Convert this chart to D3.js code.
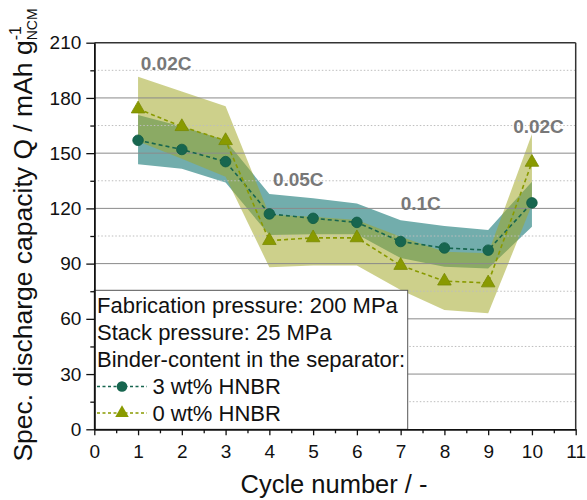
<!DOCTYPE html>
<html>
<head>
<meta charset="utf-8">
<script src="https://cdn.jsdelivr.net/npm/d3@7"></script>
<style>
  html, body { margin: 0; padding: 0; background: #fff; }
  svg { display: block; font-family: "Liberation Sans", Arial, sans-serif; }
</style>
</head>
<body>
<svg id="chart" width="587" height="500"></svg>
<script>
// ---- data ----
const cycles = [1, 2, 3, 4, 5, 6, 7, 8, 9, 10];
const cap3 = [157, 152, 145.4, 117, 114.6, 112.4, 102, 98.5, 97.3, 123];
const cap0 = [174, 164.4, 156.8, 102.5, 104, 104, 89, 80.5, 79.5, 145];
const band3Upper = [170.7, 164.5, 157, 127.8, 125.5, 122.7, 113.5, 110.4, 108.3, 134.5];
const band3Lower = [144, 141.5, 134, 105.5, 106, 106, 93, 88.3, 87.4, 110];
const band0Upper = [191.5, 183.5, 175.5, 116.5, 115.5, 113.7, 104.6, 96.5, 95.6, 160.4];
const band0Lower = [156.5, 147, 137.2, 88, 89, 89, 75.7, 64.8, 63, 122];
const seriesNames = ["3 wt% HNBR", "0 wt% HNBR"];
const legendHeader = ["Fabrication pressure: 200 MPa", "Stack pressure: 25 MPa", "Binder-content in the separator:"];
const rateLabels = ["0.02C", "0.05C", "0.1C", "0.02C"];
const rateCycle = [1.64, 4.66, 7.46, 10.15];
const rateCap = [199, 136, 122.8, 164.4];
const yMajorTicks = [0, 30, 60, 90, 120, 150, 180, 210];
const yMinorTicks = [15, 45, 75, 105, 135, 165, 195];
const xMajorTicks = [0, 1, 2, 3, 4, 5, 6, 7, 8, 9, 10, 11];
const xMinorTicks = [0.5, 1.5, 2.5, 3.5, 4.5, 5.5, 6.5, 7.5, 8.5, 9.5, 10.5];

// ---- layout ----
const W = 587, H = 500;
const L = 94.3, T = 42.7, R = 575.7, B = 429.3;
const svg = d3.select("#chart");
const x = d3.scaleLinear().domain([0, 11]).range([L, R]);
const y = d3.scaleLinear().domain([0, 210]).range([B, T]);

const c3 = "#17664f", c0 = "#899a00";

// bands
const area = (up, lo) => d3.area()
  .x((d, i) => x(cycles[i]))
  .y0((d, i) => y(lo[i]))
  .y1((d, i) => y(up[i]))(cycles);
svg.append("path").attr("d", area(band3Upper, band3Lower)).attr("fill", "#72adac");
svg.append("path").attr("d", area(band0Upper, band0Lower)).attr("fill", "rgba(161,167,38,0.535)");

// grid
const grid = svg.append("g");
grid.selectAll("line.maj").data(yMajorTicks.filter(v => v > 0 && v < 210)).join("line")
  .attr("x1", L).attr("x2", R).attr("y1", d => y(d)).attr("y2", d => y(d))
  .attr("stroke", "#8a8a8a").attr("stroke-width", 1);
grid.selectAll("line.min").data(yMinorTicks).join("line")
  .attr("x1", L).attr("x2", R).attr("y1", d => y(d)).attr("y2", d => y(d))
  .attr("stroke", "#bdbdbd").attr("stroke-width", 1).attr("stroke-dasharray", "1.5,2");

// lines
const line = vals => d3.line().x((d, i) => x(cycles[i])).y((d, i) => y(vals[i]))(cycles);
svg.append("path").attr("d", line(cap3)).attr("fill", "none").attr("stroke", c3)
  .attr("stroke-width", 1.6).attr("stroke-dasharray", "4,3");
svg.append("path").attr("d", line(cap0)).attr("fill", "none").attr("stroke", c0)
  .attr("stroke-width", 1.6).attr("stroke-dasharray", "4,3");

// markers
const tri = d3.symbol().type(d3.symbolTriangle).size(80);
svg.selectAll("circle.m3").data(cycles).join("circle")
  .attr("cx", (d, i) => x(d)).attr("cy", (d, i) => y(cap3[i])).attr("r", 5.3)
  .attr("fill", c3).attr("stroke", "#0f5a44").attr("stroke-width", 0.8);
svg.selectAll("path.m0").data(cycles).join("path")
  .attr("d", tri).attr("transform", (d, i) => `translate(${x(d)},${y(cap0[i])})`)
  .attr("fill", c0).attr("stroke", "#7a8a00").attr("stroke-width", 0.8);

// rate labels
svg.selectAll("text.rate").data(rateLabels).join("text")
  .attr("x", (d, i) => x(rateCycle[i])).attr("y", (d, i) => y(rateCap[i]))
  .attr("dy", "0.36em").attr("text-anchor", "middle")
  .attr("font-size", 19).attr("font-weight", "bold").attr("fill", "#787878")
  .text(d => d);

// legend
const lg = svg.append("g");
const lgTop = y(75.5), lgRight = 407.7;
lg.append("rect").attr("x", L).attr("y", lgTop).attr("width", lgRight - L).attr("height", B - lgTop)
  .attr("fill", "#fff").attr("stroke", "#555").attr("stroke-width", 1);
const rowY = [313, 340, 366.7, 394, 420.5];
legendHeader.forEach((t, i) => {
  lg.append("text").attr("x", 97).attr("y", rowY[i]).attr("font-size", 22).attr("fill", "#111").text(t);
});
[c3, c0].forEach((c, i) => {
  const yy = rowY[3 + i] - 7.5;
  lg.append("line").attr("x1", 97).attr("x2", 147).attr("y1", yy).attr("y2", yy)
    .attr("stroke", c).attr("stroke-width", 1.6).attr("stroke-dasharray", "3,2.5");
  if (i === 0) lg.append("circle").attr("cx", 122).attr("cy", yy).attr("r", 5.3).attr("fill", c3);
  else lg.append("path").attr("d", tri).attr("transform", `translate(122,${yy})`).attr("fill", c0);
  lg.append("text").attr("x", 152.5).attr("y", rowY[3 + i]).attr("font-size", 22).attr("fill", "#111").text(seriesNames[i]);
});

// frame
svg.append("line").attr("x1", L).attr("x2", R).attr("y1", T).attr("y2", T).attr("stroke", "#333").attr("stroke-width", 1.5);
svg.append("line").attr("x1", R).attr("x2", R).attr("y1", T).attr("y2", B).attr("stroke", "#333").attr("stroke-width", 1.5);

// axes
const yAx = svg.append("g").attr("transform", `translate(${L},0)`)
  .call(d3.axisLeft(y).tickValues(yMajorTicks).tickSize(8).tickPadding(5).tickSizeOuter(0));
const yMin = svg.append("g").attr("transform", `translate(${L},0)`)
  .call(d3.axisLeft(y).tickValues(yMinorTicks).tickSize(4).tickFormat("").tickSizeOuter(0));
const xAx = svg.append("g").attr("transform", `translate(0,${B})`)
  .call(d3.axisBottom(x).tickValues(xMajorTicks).tickSize(6).tickPadding(9).tickSizeOuter(0));
const xMin = svg.append("g").attr("transform", `translate(0,${B})`)
  .call(d3.axisBottom(x).tickValues(xMinorTicks).tickSize(4).tickFormat("").tickSizeOuter(0));
[yAx, yMin, xAx, xMin].forEach(g => {
  g.select(".domain").attr("stroke", "#111").attr("stroke-width", 1.5);
  g.selectAll(".tick line").attr("stroke", "#111").attr("stroke-width", 1.3);
  g.selectAll(".tick text").attr("font-size", 19).attr("fill", "#111")
    .attr("font-family", "'Liberation Sans', Arial, sans-serif");
});

// axis titles
svg.append("text").attr("x", 334).attr("y", 493).attr("text-anchor", "middle")
  .attr("font-size", 25.5).attr("fill", "#111").text("Cycle number / -");

const yt = svg.append("text").attr("transform", "translate(32,235) rotate(-90)")
  .attr("text-anchor", "middle").attr("font-size", 26.5).attr("fill", "#111");
yt.append("tspan").text("Spec. discharge capacity Q / mAh g");
const sup = yt.append("tspan").attr("font-size", 16).attr("dy", -11).text("-1");
const supW = sup.node().getComputedTextLength();
yt.append("tspan").attr("font-size", 14).attr("dx", -supW).attr("dy", 16).text("NCM");
</script>
</body>
</html>
